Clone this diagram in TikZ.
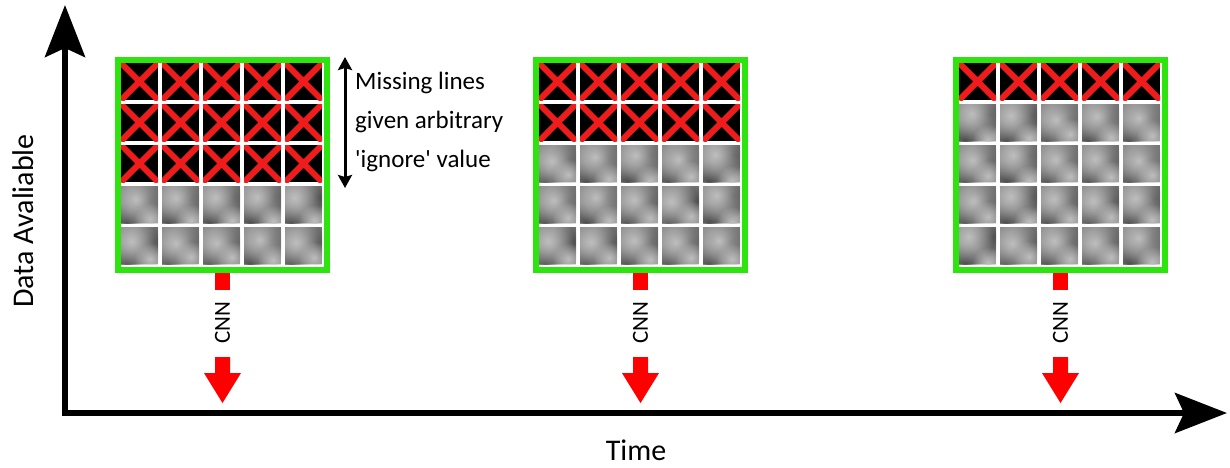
\documentclass[tikz,border=0pt]{standalone}
\usepackage{fontspec}
\setmainfont{Carlito}
\usetikzlibrary{arrows.meta,fadings}
\definecolor{framegreen}{RGB}{45,228,15}
\definecolor{crossred}{RGB}{240,28,28}
\definecolor{arrowred}{RGB}{255,0,0}
\definecolor{cellgray}{RGB}{128,128,128}
\definecolor{celllight}{RGB}{190,190,190}
\definecolor{celldark}{RGB}{80,80,80}
\tikzfading[name=blob, inner color=transparent!0, outer color=transparent!100]
\tikzset{
  axis/.style={line width=6pt, {Stealth[length=52pt,width=40pt,inset=9pt]}-{Stealth[length=52pt,width=40pt,inset=9pt]}},
  span/.style={line width=3pt, {Stealth[length=13pt,width=14pt,inset=2pt]}-{Stealth[length=13pt,width=14pt,inset=2pt]}},
  frame/.style={draw=framegreen, line width=6pt},
  cross/.style={draw=crossred, line width=6pt},
  light/.style={fill=celllight, path fading=blob},
  dark/.style={fill=celldark, path fading=blob},
  cnn/.style={rotate=90, inner sep=0pt, font=\fontsize{23}{23}\selectfont},
  label/.style={inner sep=0pt, font=\fontsize{30}{30}\selectfont}
}
\newcommand{\lostcell}[2]{%
  \begin{scope}
  \clip (#1,#2) rectangle ++(37,37);
  \fill[black] (#1,#2) rectangle ++(37,37);
  \draw[cross] (#1,#2) -- ++(37,37) (#1+37,#2) -- ++(-37,37);
  \end{scope}}
\newcommand{\datacell}[2]{%
  \begin{scope}
  \clip (#1,#2) rectangle ++(37,37);
  \fill[cellgray] (#1,#2) rectangle ++(37,37);
  \pgfmathsetmacro\jx{rand*4}
  \pgfmathsetmacro\jy{rand*4}
  \fill[dark] (#1+31-\jx,#2+13+\jy) circle (22);
  \fill[dark] (#1+6,#2+36) circle (20);
  \fill[light] (#1+12+\jx,#2+13+\jy) circle (26);
  \fill[light] (#1+29,#2+33-\jy) circle (16);
  \end{scope}}
\pgfmathsetseed{11}
\begin{document}
\begin{tikzpicture}[x=1pt,y=-1pt]
\useasboundingbox (0,0) rectangle (1230,467);
\coordinate (origin) at (65,413);
\draw[axis] (65,5) -- (origin) -- (1227,413);
\node[label, rotate=90] (avail) at (23,221) {Data Avaliable};
\node[label] (time) at (636,450) {Time};
\foreach \gx/\lost in {115/3,533/2,953/1} {
  \foreach \r in {0,...,4} \foreach \c in {0,...,4} {
    \pgfmathsetmacro\cx{\gx+6+41*\c}
    \pgfmathsetmacro\cy{63+41*\r}
    \ifnum\r<\lost \lostcell{\cx}{\cy} \else \datacell{\cx}{\cy} \fi
  }
  \draw[frame] (\gx+3,60) rectangle (\gx+212,270);
  \fill[arrowred] (\gx+100,273) rectangle (\gx+115,290);
  \node[cnn] (cnn\gx) at (\gx+107.5,323) {CNN};
  \fill[arrowred] (\gx+100,357) -- (\gx+115,357) -- (\gx+115,373) -- (\gx+126,373)
    -- (\gx+107.5,403) -- (\gx+89,373) -- (\gx+100,373) -- cycle;
}
\coordinate (spantop) at (345,57);
\coordinate (spanbot) at (345,188);
\draw[span] (spantop) -- (spanbot);
\node[anchor=west, align=left, inner sep=0pt, font=\fontsize{25}{39}\selectfont] (note) at (355,122)
  {Missing lines\\given arbitrary\\\textquotesingle ignore\textquotesingle\ value};
\end{tikzpicture}
\end{document}
